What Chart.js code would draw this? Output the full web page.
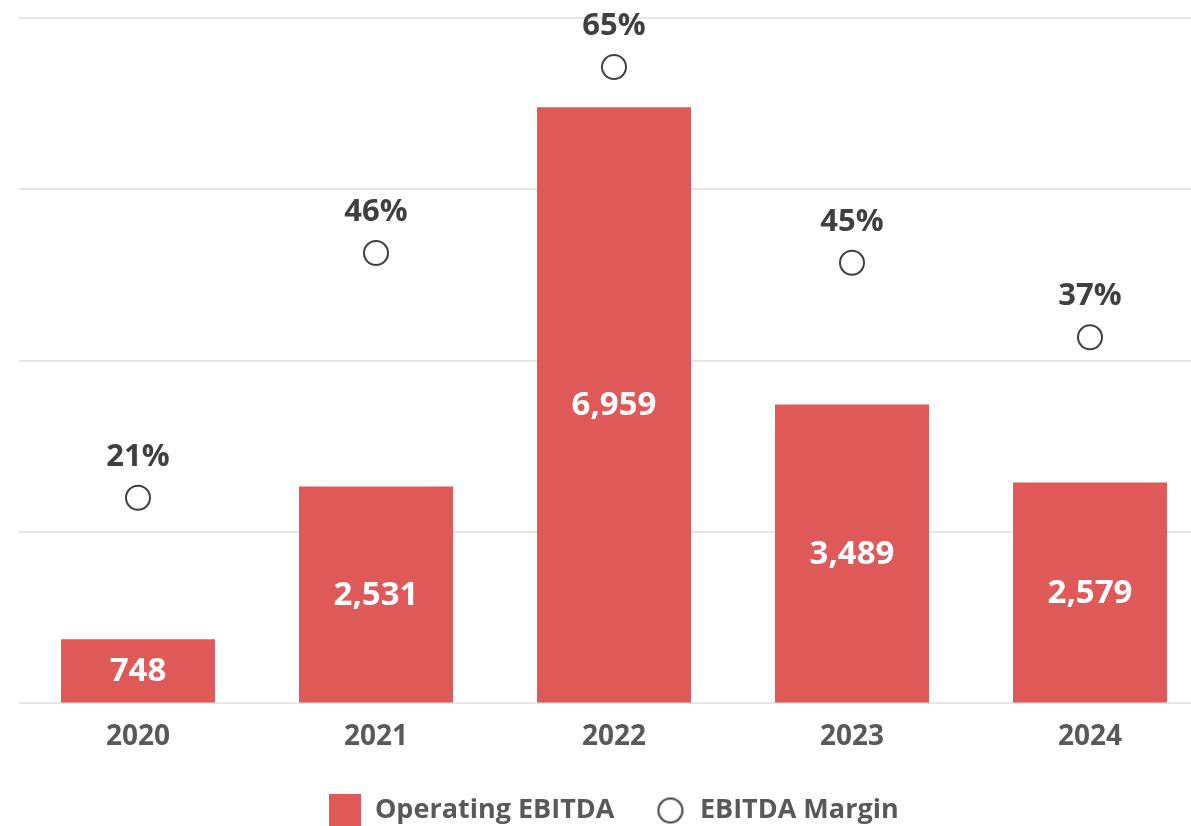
<!DOCTYPE html>
<html>
<head>
<meta charset="utf-8">
<script src="https://cdn.jsdelivr.net/npm/chart.js@4/dist/chart.umd.min.js"></script>
<style>
html,body{margin:0;padding:0;background:#fff;overflow:hidden;}
canvas{display:block;}
</style>
</head>
<body>
<canvas id="c" width="1209" height="826"></canvas>
<script>
const years = ['2020', '2021', '2022', '2023', '2024'];
const operatingEbitda = [748, 2531, 6959, 3489, 2579];
const ebitdaMargin = [21, 46, 65, 45, 37.4];
const seriesNames = ['Operating EBITDA', 'EBITDA Margin'];

const RED = '#DF5959';
const DARK = '#404040';
const GREY = '#595959';
const FONT = "'Open Sans', sans-serif";

function makeSquare() {
  const c = document.createElement('canvas');
  c.width = 32; c.height = 33;
  const x = c.getContext('2d');
  x.fillStyle = RED; x.fillRect(0, 0, 32, 33);
  return c;
}
function makeCircle() {
  const c = document.createElement('canvas');
  c.width = 28; c.height = 28;
  const x = c.getContext('2d');
  x.beginPath(); x.arc(14, 14, 12, 0, Math.PI * 2);
  x.fillStyle = '#fff'; x.fill();
  x.lineWidth = 2; x.strokeStyle = DARK; x.stroke();
  return c;
}
const legendIcons = [makeSquare(), makeCircle()];

const labelPlugin = {
  id: 'valueLabels',
  afterDatasetsDraw(chart) {
    const ctx = chart.ctx;
    ctx.save();
    ctx.textAlign = 'center';
    ctx.textBaseline = 'middle';
    ctx.font = 'bold 33px ' + FONT;
    const bars = chart.getDatasetMeta(0).data;
    bars.forEach((el, i) => {
      ctx.fillStyle = '#ffffff';
      ctx.fillText(operatingEbitda[i].toLocaleString('en-US'), el.x, (el.y + el.base) / 2 + 1);
    });
    ctx.font = 'bold 31px ' + FONT;
    const pts = chart.getDatasetMeta(1).data;
    pts.forEach((el, i) => {
      ctx.fillStyle = DARK;
      ctx.fillText(Math.round(ebitdaMargin[i]) + '%', el.x, el.y - 41);
    });
    ctx.restore();
  }
};

new Chart(document.getElementById('c'), {
  data: {
    labels: years,
    datasets: [
      {
        type: 'bar',
        label: seriesNames[0],
        data: operatingEbitda,
        backgroundColor: RED,
        yAxisID: 'y',
        categoryPercentage: 1,
        barPercentage: 0.647,
        order: 2
      },
      {
        type: 'line',
        label: seriesNames[1],
        data: ebitdaMargin,
        showLine: false,
        pointRadius: 12,
        pointHoverRadius: 12,
        pointBorderWidth: 2,
        pointBorderColor: DARK,
        pointBackgroundColor: '#ffffff',
        yAxisID: 'y2',
        order: 1
      }
    ]
  },
  options: {
    responsive: false,
    animation: false,
    layout: { autoPadding: false, padding: { left: 19, right: 0, top: 18, bottom: -8 } },
    plugins: {
      tooltip: { enabled: false },
      legend: {
        position: 'bottom',
        labels: {
          usePointStyle: true,
          pointStyleWidth: 32,
          padding: 40,
          color: GREY,
          font: { family: FONT, size: 27, weight: 'bold' },
          generateLabels(chart) {
            return chart.data.datasets.map((ds, i) => ({
              text: ds.label,
              pointStyle: legendIcons[i],
              fillStyle: i === 0 ? RED : '#fff',
              strokeStyle: i === 0 ? RED : DARK,
              lineWidth: 0,
              hidden: false,
              datasetIndex: i,
              fontColor: GREY
            }));
          }
        }
      }
    },
    scales: {
      x: {
        grid: { display: false, drawTicks: false },
        border: { display: false },
        ticks: {
          padding: 17,
          color: GREY,
          font: { family: FONT, size: 28, weight: 'bold' }
        },
        afterFit(s) { s.height -= 14; }
      },
      y: {
        position: 'left',
        min: 0,
        max: 8000,
        ticks: { display: false, stepSize: 2000 },
        grid: { color: '#E6E6E6', lineWidth: 2, drawTicks: false },
        border: { display: false },
        afterFit(s) { s.width = 0; }
      },
      y2: {
        position: 'right',
        min: 0,
        max: 70,
        display: false
      }
    }
  },
  plugins: [labelPlugin]
});
</script>
</body>
</html>
